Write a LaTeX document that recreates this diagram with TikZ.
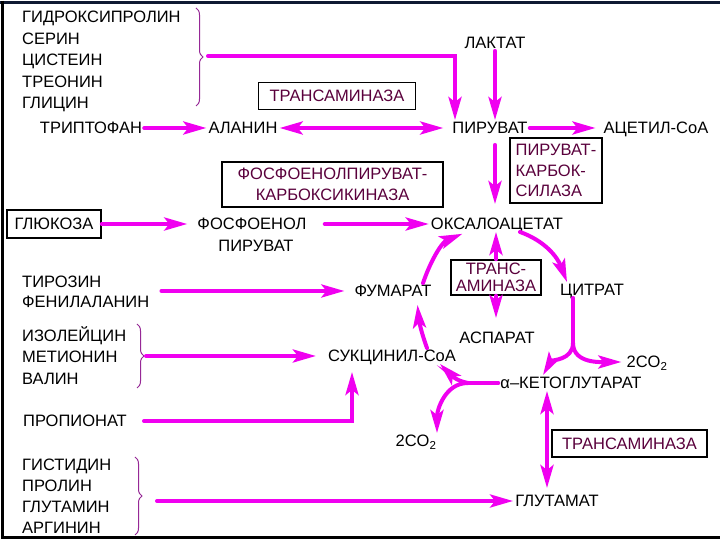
\documentclass[tikz,border=0pt]{standalone}
\usepackage{fontspec}
\setmainfont{Liberation Sans}
\usetikzlibrary{arrows.meta, positioning, calc, decorations.pathreplacing}
\definecolor{arrowmag}{RGB}{240, 0, 240}
\definecolor{enzmaroon}{RGB}{90, 0, 60}
\definecolor{bracepurple}{RGB}{150, 40, 150}
\definecolor{framenavy}{RGB}{15, 25, 50}

\begin{document}
\begin{tikzpicture}[
  x=1pt, y=1pt,
  >={Stealth[length=23pt, width=13pt, inset=5pt]},
  lbl/.style={font=\fontsize{16.5}{21.5}\selectfont, inner sep=2pt, text height=11.5pt, text depth=0pt},
  aalist/.style={font=\fontsize{16.5}{21.5}\selectfont, align=left, inner sep=0pt, anchor=north west},
  enzbox/.style={draw, line width=1.5pt, fill=white, text=enzmaroon, font=\fontsize{16.5}{20.5}\selectfont, inner sep=2pt},
  flow/.style={draw=arrowmag, line width=4pt, line cap=round, ->},
  aabrace/.style={draw=bracepurple, line width=1pt, decorate, decoration={brace, amplitude=7pt}}
]
  \fill[white] (0,0) rectangle (720,540);
  \useasboundingbox (0,0) rectangle (720,540);
  \draw[framenavy, line width=3pt] (0,537.5) -- (720,537.5);
  \draw[black, line width=3pt] (2.5,539) -- (2.5,2.5) -- (720,2.5);

  \node[aalist] (hyd) at (22, 529) {ГИДРОКСИПРОЛИН\\СЕРИН\\ЦИСТЕИН\\ТРЕОНИН\\ГЛИЦИН};
  \node[lbl] (lac) at (495, 497) {ЛАКТАТ};
  \node[enzbox, minimum width=157pt, minimum height=27pt] (tam1) at (337, 444) {ТРАНСАМИНАЗА};
  \node[lbl] (trp) at (91, 412) {ТРИПТОФАН};
  \node[lbl] (ala) at (243, 412) {АЛАНИН};
  \node[lbl] (pyr) at (490, 412) {ПИРУВАТ};
  \node[lbl] (acoa) at (656, 412) {АЦЕТИЛ-СоА};
  \node[enzbox, align=left, minimum width=92pt, minimum height=65pt] (pc) at (556, 369.5) {ПИРУВАТ-\\КАРБОК-\\СИЛАЗА};
  \node[enzbox, align=center, minimum width=221pt, minimum height=45pt, font=\fontsize{16.5}{21}\selectfont] (pepck) at (332.5, 355.5) {ФОСФОЕНОЛПИРУВАТ-\\КАРБОКСИКИНАЗА};
  \node[lbl, draw, line width=1.5pt, minimum width=94pt, minimum height=28pt] (glc) at (54, 316) {ГЛЮКОЗА};
  \node[lbl] (pep) at (252, 316) {ФОСФОЕНОЛ};
  \node[lbl] (pep2) at (256, 294) {ПИРУВАТ};
  \node[lbl] (oaa) at (497, 316) {ОКСАЛОАЦЕТАТ};
  \node[aalist, font=\fontsize{16.5}{20}\selectfont] (tyr) at (22, 264) {ТИРОЗИН\\ФЕНИЛАЛАНИН};
  \node[lbl] (fum) at (393, 249) {ФУМАРАТ};
  \node[enzbox, align=center, minimum width=90pt, minimum height=35pt, font=\fontsize{16.5}{16.5}\selectfont] (tam2) at (496, 262.5) {ТРАНС-\\АМИНАЗА};
  \node[lbl] (cit) at (592, 250) {ЦИТРАТ};
  \node[lbl] (asp) at (497, 202) {АСПАРАТ};
  \node[aalist] (ile) at (22, 214) {ИЗОЛЕЙЦИН\\МЕТИОНИН\\ВАЛИН};
  \node[lbl] (succ) at (392, 184) {СУКЦИНИЛ-СоА};
  \node[lbl] (akg) at (571, 157) {α–КЕТОГЛУТАРАТ};
  \node[lbl] (co2a) at (647, 178) {2CO\textsubscript{2}};
  \node[lbl] (prop) at (75, 119) {ПРОПИОНАТ};
  \node[lbl] (co2b) at (416, 99) {2CO\textsubscript{2}};
  \node[enzbox, minimum width=155pt, minimum height=27pt] (tam3) at (629.5, 96.5) {ТРАНСАМИНАЗА};
  \node[aalist, font=\fontsize{16.5}{21}\selectfont] (his) at (22, 81) {ГИСТИДИН\\ПРОЛИН\\ГЛУТАМИН\\АРГИНИН};
  \node[lbl] (glu) at (557, 39) {ГЛУТАМАТ};

  \draw[aabrace] (196, 532) -- (196, 434);
  \coordinate (hydout) at (208, 484);
  \draw[aabrace] (137, 216) -- (137, 152);
  \coordinate (ileout) at (146, 184);
  \draw[aabrace] (135, 83) -- (135, 5);
  \coordinate (hisout) at (157, 39);

  \draw[flow] (hydout) -| ([xshift=-35]pyr.north);
  \draw[flow] (lac) -- (lac |- pyr.north);
  \draw[flow] (trp) -- (ala);
  \draw[flow, <->, shorten >=7pt] (ala) -- (pyr);
  \draw[flow, shorten >=6pt] (pyr) -- (acoa);
  \draw[flow, shorten <=9pt, shorten >=12pt] ([xshift=5]pyr.south) -- ([xshift=5]pyr.south |- oaa.north);
  \draw[flow, shorten >=8pt] (glc) -- (pep);
  \draw[flow, shorten <=16pt] (pep) -- (oaa);
  \draw[flow, shorten <=12pt, shorten >=8pt] (tyr.east |- fum.west) -- (fum.west);
  \draw[flow, shorten >=10pt] (ileout) -- (succ);
  \draw[flow, shorten <=15pt, shorten >=8pt] (prop) -| ([xshift=-40]succ.south);
  \draw[flow] (hisout) -- (glu);

  % cycle
  \draw[flow] ([xshift=23]oaa.south) to[out=-20, in=111] ([xshift=-25]cit.north);
  \coordinate (citsplit) at (573, 197);
  \draw[flow, -] ([xshift=-19]cit.south) -- (citsplit);
  \draw[flow] (citsplit) to[out=-90, in=60] ([xshift=-28]akg.north);
  \draw[flow, shorten >=3pt] (citsplit) to[out=-90, in=180] (co2a.west);
  \coordinate (akgsplit) at (468, 157);
  \draw[flow, -] (akg.west) -- (akgsplit);
  \draw[flow] (akgsplit) to[out=170, in=-45] ([xshift=48]succ.south);
  \draw[flow] (akgsplit) to[out=180, in=90] ([xshift=21]co2b.north);
  \draw[flow, shorten >=6pt] ([xshift=35]succ.north) to[out=110, in=-85] ([xshift=24]fum.south);
  \draw[flow, shorten >=5pt] ([xshift=30]fum.north) to[out=71, in=-158] ([xshift=-30]oaa.south);
  \draw[flow] (tam2.north) -- (tam2.north |- oaa.south);
  \draw[flow, shorten >=12pt] (tam2.south) -- (tam2.south |- asp.north);
  \draw[flow, <->, shorten >=5pt] ([xshift=-24]akg.south) -- ([xshift=-24]akg.south |- glu.north);
\end{tikzpicture}
\end{document}
